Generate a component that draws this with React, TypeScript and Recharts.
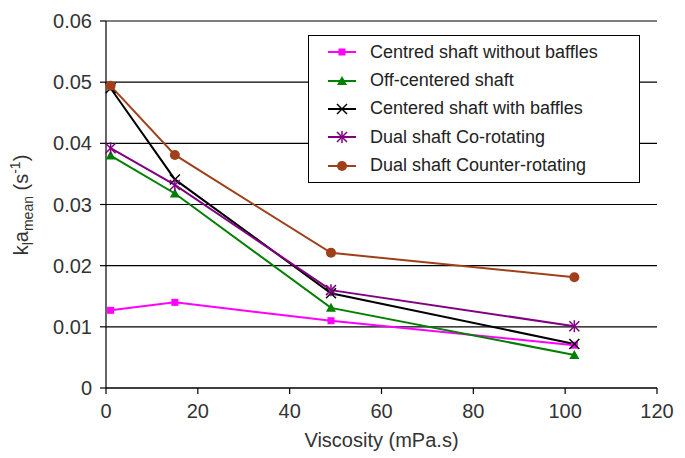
import { LineChart, Line, XAxis, YAxis, CartesianGrid, Label } from "recharts"

const viscosity = [1, 15, 49, 102]
const centredNoBaffles = [0.0127, 0.014, 0.011, 0.007]
const offCentered = [0.038, 0.0318, 0.0131, 0.0054]
const centeredBaffles = [0.049, 0.0341, 0.0155, 0.0072]
const dualCo = [0.0392, 0.0332, 0.016, 0.0101]
const dualCounter = [0.0494, 0.0381, 0.0221, 0.0181]

const xTicks = [0, 20, 40, 60, 80, 100, 120]
const yTicks = [0, 0.01, 0.02, 0.03, 0.04, 0.05, 0.06]

const data = viscosity.map((v, i) => ({
  v,
  a: centredNoBaffles[i],
  b: offCentered[i],
  c: centeredBaffles[i],
  d: dualCo[i],
  e: dualCounter[i],
}))

const FONT = "'Liberation Sans', Arial, sans-serif"
const TXT = "#333"

type MarkerKind = "square" | "triangle" | "x" | "star" | "circle"

function Marker({ kind, cx, cy, color }: { kind: MarkerKind; cx: number; cy: number; color: string }) {
  if (kind === "square") return <rect x={cx - 3.5} y={cy - 3.5} width={7} height={7} fill={color} />
  if (kind === "triangle")
    return <polygon points={`${cx},${cy - 5} ${cx + 5},${cy + 4} ${cx - 5},${cy + 4}`} fill={color} />
  if (kind === "circle") return <circle cx={cx} cy={cy} r={5} fill={color} />
  const r = 5
  return (
    <g stroke={color} strokeWidth={1.5}>
      <line x1={cx - r} y1={cy - r} x2={cx + r} y2={cy + r} />
      <line x1={cx - r} y1={cy + r} x2={cx + r} y2={cy - r} />
      {kind === "star" && <line x1={cx} y1={cy - r - 1} x2={cx} y2={cy + r + 1} />}
    </g>
  )
}

const series = [
  { key: "a", name: "Centred shaft without baffles", color: "#ff00ff", kind: "square" as MarkerKind },
  { key: "b", name: "Off-centered shaft", color: "#008000", kind: "triangle" as MarkerKind },
  { key: "c", name: "Centered shaft with baffles", color: "#000000", kind: "x" as MarkerKind },
  { key: "d", name: "Dual shaft Co-rotating", color: "#800080", kind: "star" as MarkerKind },
  { key: "e", name: "Dual shaft Counter-rotating", color: "#a0401a", kind: "circle" as MarkerKind },
]

// legend drawn on top of the chart, like the excel one
function LegendBox() {
  return (
    <div
      style={{
        position: "absolute",
        left: 308,
        top: 35,
        width: 332,
        height: 148,
        boxSizing: "border-box",
        background: "#fff",
        border: "1.3px solid #000",
        padding: "2px 0 0 19px",
        fontFamily: FONT,
        fontSize: 18,
        color: "#222",
      }}
    >
      {series.map((s) => (
        <div key={s.key} style={{ display: "flex", alignItems: "center", height: 28.4 }}>
          <svg width={28} height={14} style={{ marginRight: 14 }}>
            <line x1={0} y1={7} x2={28} y2={7} stroke={s.color} strokeWidth={2} />
            <Marker kind={s.kind} cx={14} cy={7} color={s.color} />
          </svg>
          <span>{s.name}</span>
        </div>
      ))}
    </div>
  )
}

function YLabel() {
  return (
    <text
      transform="translate(28, 205) rotate(-90)"
      textAnchor="middle"
      fontFamily={FONT}
      fontSize={20}
      fill={TXT}
    >
      <tspan>k</tspan>
      <tspan fontSize={14} dy={5}>l</tspan>
      <tspan dy={-5}>a</tspan>
      <tspan fontSize={14} dy={5}>mean</tspan>
      <tspan dy={-5}> (s</tspan>
      <tspan fontSize={14} dy={-8}>-1</tspan>
      <tspan dy={8}>)</tspan>
    </text>
  )
}

export default function App() {
  return (
    <div style={{ position: "absolute", left: 0, top: 0, width: 685, height: 458, background: "#fff" }}>
      <LineChart width={685} height={458} data={data} margin={{ top: 21, right: 28, left: 0, bottom: 0 }}>
        <CartesianGrid vertical={false} stroke="#000" strokeWidth={1.2} />
        <XAxis
          dataKey="v"
          type="number"
          domain={[0, 120]}
          ticks={xTicks}
          stroke="#000"
          strokeWidth={1.2}
          height={70}
          tickMargin={10}
          tick={{ fill: TXT, fontSize: 20, fontFamily: FONT }}
        >
          <Label
            value="Viscosity (mPa.s)"
            position="insideBottom"
            offset={11}
            style={{ fill: TXT, fontSize: 20, fontFamily: FONT }}
          />
        </XAxis>
        <YAxis
          type="number"
          domain={[0, 0.06]}
          ticks={yTicks}
          width={106}
          stroke="#000"
          strokeWidth={1.2}
          tickMargin={8}
          tickFormatter={(v: number) => (v === 0 ? "0" : v.toFixed(2))}
          tick={{ fill: TXT, fontSize: 20, fontFamily: FONT }}
        >
          <Label content={<YLabel />} />
        </YAxis>
        {series.map((s) => (
          <Line
            key={s.key}
            dataKey={s.key}
            name={s.name}
            stroke={s.color}
            strokeWidth={2}
            isAnimationActive={false}
            dot={(p: any) => <Marker key={`${s.key}-${p.index}`} kind={s.kind} cx={p.cx} cy={p.cy} color={s.color} />}
          />
        ))}
      </LineChart>
      <LegendBox />
    </div>
  )
}
